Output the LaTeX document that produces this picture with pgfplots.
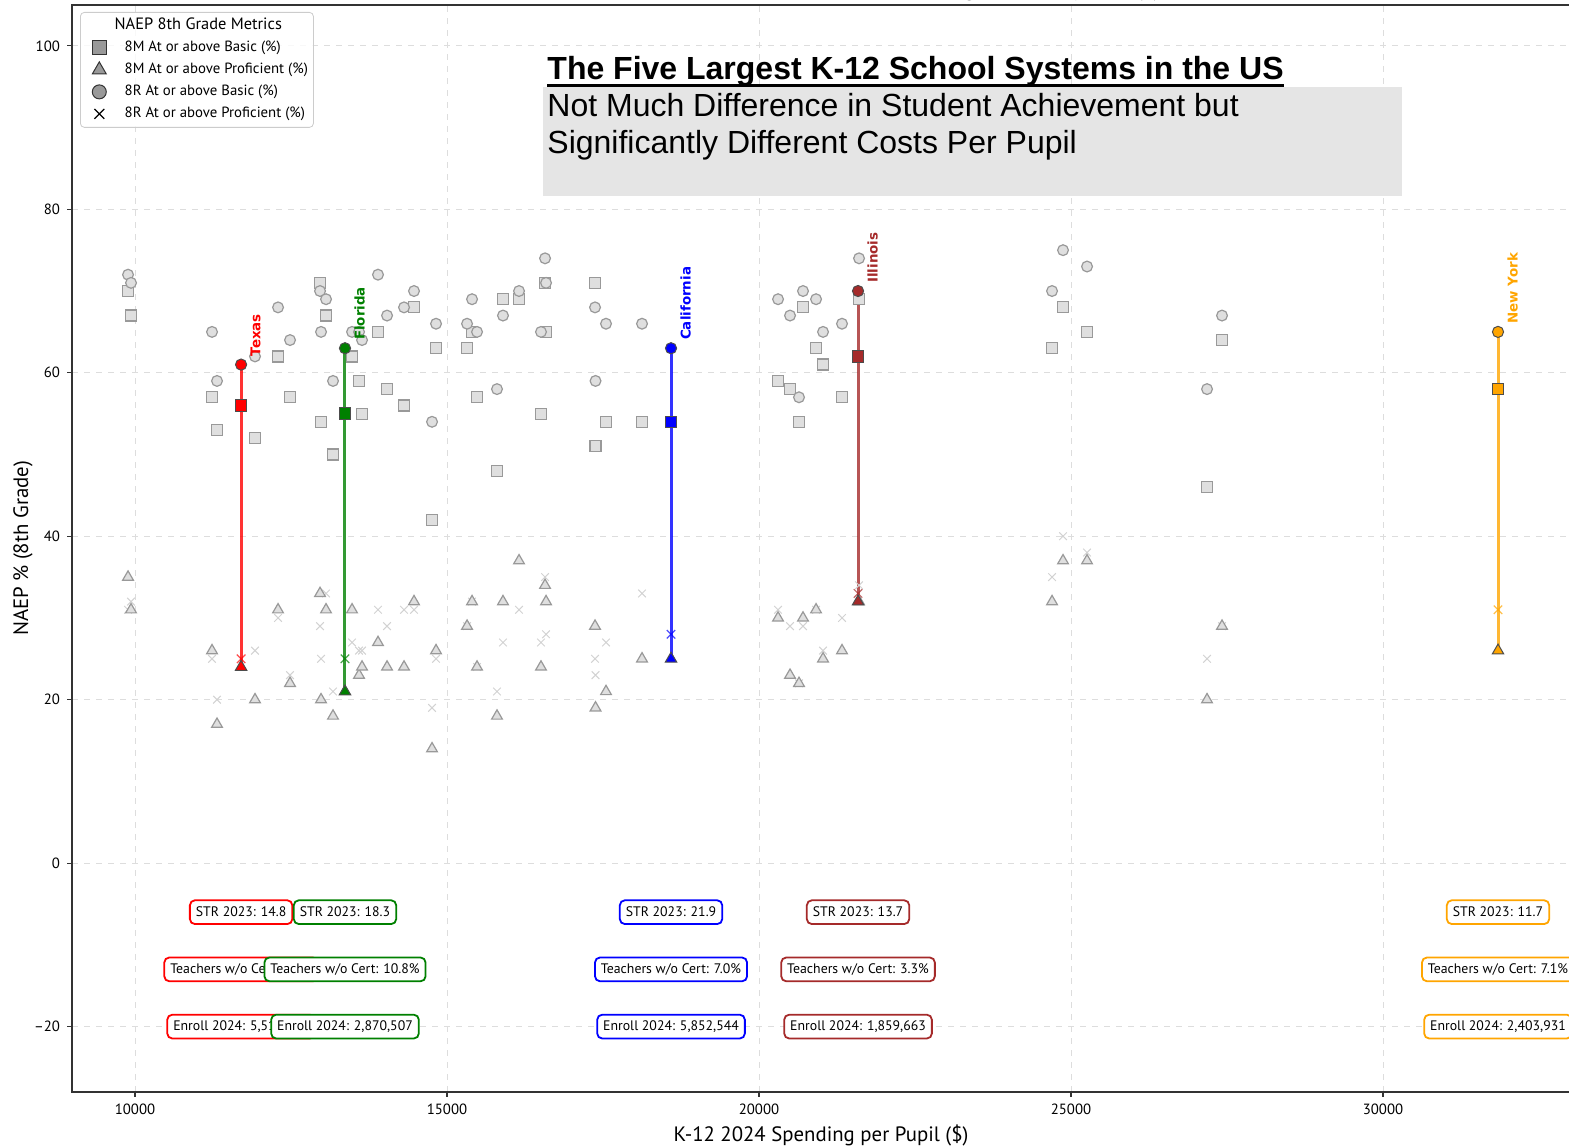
\documentclass[border=0pt]{standalone}
\usepackage{pgfplots}
\pgfplotsset{compat=1.18}
\usepackage{pgfplotstable}
\usepackage{fontspec}
\setmainfont{PT Sans}
\newfontfamily\arialf{Liberation Sans}
\newfontfamily\dejavu{DejaVu Sans}
\definecolor{txr}{HTML}{FF0000}
\definecolor{flg}{HTML}{008000}
\definecolor{cab}{HTML}{0000FF}
\definecolor{ilb}{HTML}{A52A2A}
\definecolor{nyo}{HTML}{FFA500}
\definecolor{gridc}{HTML}{DDDDDD}
\definecolor{axc}{HTML}{333333}
\newcommand\thickul[1]{\setbox0\hbox{#1}\leavevmode\rlap{\rule[-3.5pt]{\wd0}{1.25pt}}\box0}

% other states: spending, 8M basic, 8M proficient, 8R basic, 8R proficient
\pgfplotstableread{
x mb mp rb rp
9888 70 35 72 31
9936 67 31 71 32
11234 57 26 65 25
11314 53 17 59 20
11923 52 20 62 26
12292 62 31 68 30
12484 57 22 64 23
12965 71 33 70 29
12981 54 20 65 25
13061 67 31 69 33
13173 50 18 59 21
13478 62 31 65 27
13590 59 23 65 26
13638 55 24 64 26
13894 65 27 72 31
14039 58 24 67 29
14311 56 24 68 31
14471 68 32 70 31
14760 42 14 54 19
14824 63 26 66 25
15321 63 29 66 29
15401 65 32 69 32
15481 57 24 65 24
15801 48 18 58 21
15897 69 32 67 27
16154 69 37 70 31
16506 55 24 65 27
16571 71 34 74 35
16587 65 32 71 28
17372 71 29 68 25
17380 51 19 59 23
17548 54 21 66 27
18125 54 25 66 33
20305 59 30 69 31
20497 58 23 67 29
20641 54 22 57 22
20705 68 30 70 29
20914 63 31 69 31
21026 61 25 65 26
21330 57 26 66 30
21603 69 32 74 34
24696 63 32 70 35
24872 68 37 75 40
25257 65 37 73 38
27180 46 20 58 25
27420 64 29 67 29
}\others

\pgfplotsset{
 sq/.style={only marks, mark=square*, mark size=2.75pt, mark options={fill=gray!25, draw=gray!80, line width=0.6pt}, forget plot},
 tri/.style={only marks, mark=triangle*, mark size=3.1pt, mark options={fill=gray!25, draw=gray!80, line width=0.6pt}, forget plot},
 circ/.style={only marks, mark=*, mark size=2.7pt, mark options={fill=gray!25, draw=gray!80, line width=0.6pt}, forget plot},
 xx/.style={only marks, mark=x, mark size=2.7pt, mark options={draw=gray!35, line width=0.5pt}, forget plot},
 hline/.style={#1, line width=1.5pt, opacity=0.8, forget plot},
 hsq/.style={only marks, mark=square*, mark size=2.9pt, mark options={fill=#1, draw=black!70, line width=0.5pt}, forget plot},
 htri/.style={only marks, mark=triangle*, mark size=3.3pt, mark options={fill=#1, draw=black!70, line width=0.5pt}, forget plot},
 hcirc/.style={only marks, mark=*, mark size=2.8pt, mark options={fill=#1, draw=black!70, line width=0.5pt}, forget plot},
 hx/.style={only marks, mark=x, mark size=3pt, mark options={draw=#1, line width=0.6pt, opacity=0.7}, forget plot},
}
\tikzset{
 slab/.style={rotate=90, anchor=north west, inner sep=0pt, text=#1, font=\dejavu\bfseries\fontsize{6.7}{8}\selectfont},
 ibox/.style={draw=#1, line width=0.9pt, rounded corners=2.5pt, fill=white, inner xsep=3pt, inner ysep=2.6pt, text height=5.3pt, text depth=1.4pt, font=\fontsize{6.9}{8}\selectfont},
}

\begin{document}
\begin{tikzpicture}
\begin{axis}[
 set layers,
 scale only axis, width=749.1pt, height=543.5pt,
 xmin=8990, xmax=33000, ymin=-28, ymax=105,
 xtick={10000,15000,20000,25000,30000},
 ytick={-20,0,20,40,60,80,100},
 yticklabels={\textendash20,0,20,40,60,80,100},
 scaled x ticks=false,
 /pgf/number format/assume math mode=true,
 /pgf/number format/1000 sep={},
 tick label style={font=\fontsize{7.4}{8}\selectfont},
 grid=major, grid style={dashed, gridc, line width=0.5pt},
 tick align=outside, major tick length=2.5pt,
 xtick pos=bottom, ytick pos=left,
 axis line style={axc, line width=0.7pt},
 tick style={axc, line width=0.6pt},
 xlabel={K-12 2024 Spending per Pupil (\$)},
 ylabel={NAEP \% (8th Grade)},
 label style={font=\fontsize{10.4}{12}\selectfont},
 xlabel style={at={([yshift=-21.5pt]axis description cs:0.5,0)}, anchor=center},
 ylabel style={at={([xshift=-24.5pt]axis description cs:0,0.5)}, anchor=center},
 legend style={at={(0,1)}, anchor=north west, xshift=4pt, yshift=-3.5pt,
   draw=gray!40, rounded corners=2pt, fill=white, fill opacity=0.8, text opacity=1,
   font=\fontsize{7.4}{9}\selectfont, inner sep=1.25pt, row sep=0pt,
   nodes={inner sep=1.5pt, text height=6pt, text depth=2pt}},
 legend cell align=left,
 legend image code/.code={\path (0pt,0pt) (19pt,0pt); \draw[#1] plot coordinates {(8pt,0pt)};},
 clip=false,
]
\addlegendimage{empty legend}
\addlegendentry{\hspace*{-5pt}\fontsize{8.2}{9}\selectfont NAEP 8th Grade Metrics}
\addlegendimage{only marks, mark=square*, mark size=3.5pt, mark options={fill=gray, draw=black!80, line width=0.5pt}}
\addlegendentry{8M At or above Basic (\%)}
\addlegendimage{only marks, mark=triangle*, mark size=4pt, mark options={fill=gray, draw=black!80, line width=0.5pt}}
\addlegendentry{8M At or above Proficient (\%)}
\addlegendimage{only marks, mark=*, mark size=3.5pt, mark options={fill=gray, draw=black!80, line width=0.5pt}}
\addlegendentry{8R At or above Basic (\%)}
\addlegendimage{only marks, mark=x, mark size=3.5pt, mark options={draw=black, line width=0.6pt}}
\addlegendentry{8R At or above Proficient (\%)}

\coordinate (SW) at (rel axis cs:0,0);
\coordinate (NW) at (rel axis cs:0,1);

\addplot[xx] table[x=x,y=rp]{\others};
\addplot[sq] table[x=x,y=mb]{\others};
\addplot[tri] table[x=x,y=mp]{\others};
\addplot[circ] table[x=x,y=rb]{\others};

% Texas
\addplot[hline=txr] coordinates {(11700,61) (11700,24)};
\addplot[hx=txr] coordinates {(11700,25)};
\addplot[htri=txr] coordinates {(11700,24)};
\addplot[hsq=txr] coordinates {(11700,56)};
\addplot[hcirc=txr] coordinates {(11700,61)};
% Florida
\addplot[hline=flg] coordinates {(13365,63) (13365,21)};
\addplot[hx=flg] coordinates {(13365,25)};
\addplot[htri=flg] coordinates {(13365,21)};
\addplot[hsq=flg] coordinates {(13365,55)};
\addplot[hcirc=flg] coordinates {(13365,63)};
% California
\addplot[hline=cab] coordinates {(18590,63) (18590,25)};
\addplot[hx=cab] coordinates {(18590,28)};
\addplot[htri=cab] coordinates {(18590,25)};
\addplot[hsq=cab] coordinates {(18590,54)};
\addplot[hcirc=cab] coordinates {(18590,63)};
% Illinois
\addplot[hline=ilb] coordinates {(21587,70) (21587,32)};
\addplot[hx=ilb] coordinates {(21587,33)};
\addplot[htri=ilb] coordinates {(21587,32)};
\addplot[hsq=ilb] coordinates {(21587,62)};
\addplot[hcirc=ilb] coordinates {(21587,70)};
% New York
\addplot[hline=nyo] coordinates {(31843,65) (31843,26)};
\addplot[hx=nyo] coordinates {(31843,31)};
\addplot[htri=nyo] coordinates {(31843,26)};
\addplot[hsq=nyo] coordinates {(31843,58)};
\addplot[hcirc=nyo] coordinates {(31843,65)};

\begin{pgfonlayer}{axis foreground}
% state labels
\node[slab=txr] at ([xshift=4.5pt,yshift=4pt]axis cs:11700,61) {Texas};
\node[slab=flg] at ([xshift=4.5pt,yshift=4pt]axis cs:13365,63) {Florida};
\node[slab=cab] at ([xshift=4.5pt,yshift=4pt]axis cs:18590,63) {California};
\node[slab=ilb] at ([xshift=4.5pt,yshift=4pt]axis cs:21587,70) {Illinois};
\node[slab=nyo] at ([xshift=4.5pt,yshift=4pt]axis cs:31843,65) {New York};

% info boxes
\node[ibox=txr] at (axis cs:11700,-6) {STR 2023: 14.8};
\node[ibox=txr] at (axis cs:11700,-13) {Teachers w/o Cert: 9.5\%};
\node[ibox=txr] at (axis cs:11700,-20) {Enroll 2024: 5,518,432};
\node[ibox=flg] at (axis cs:13365,-6) {STR 2023: 18.3};
\node[ibox=flg] at (axis cs:13365,-13) {Teachers w/o Cert: 10.8\%};
\node[ibox=flg] at (axis cs:13365,-20) {Enroll 2024: 2,870,507};
\node[ibox=cab] at (axis cs:18590,-6) {STR 2023: 21.9};
\node[ibox=cab] at (axis cs:18590,-13) {Teachers w/o Cert: 7.0\%};
\node[ibox=cab] at (axis cs:18590,-20) {Enroll 2024: 5,852,544};
\node[ibox=ilb] at (axis cs:21587,-6) {STR 2023: 13.7};
\node[ibox=ilb] at (axis cs:21587,-13) {Teachers w/o Cert: 3.3\%};
\node[ibox=ilb] at (axis cs:21587,-20) {Enroll 2024: 1,859,663};
\node[ibox=nyo] at (axis cs:31843,-6) {STR 2023: 11.7};
\node[ibox=nyo] at (axis cs:31843,-13) {Teachers w/o Cert: 7.1\%};
\node[ibox=nyo] at (axis cs:31843,-20) {Enroll 2024: 2,403,931};
\end{pgfonlayer}

% title block
\fill[gray!20] (axis cs:16538,94.98) rectangle (axis cs:30305,81.65);
\node[anchor=base west, inner sep=0pt, font=\arialf\bfseries\fontsize{16}{19}\selectfont] at (axis cs:16603,95.84) {\thickul{The Five Largest K-12 School Systems in the US}};
\node[anchor=base west, inner sep=0pt, font=\arialf\fontsize{16}{19}\selectfont] at (axis cs:16603,91.31) {Not Much Difference in Student Achievement but};
\node[anchor=base west, inner sep=0pt, font=\arialf\fontsize{16}{19}\selectfont] at (axis cs:16603,86.79) {Significantly Different Costs Per Pupil};

% clipped top text
\node[anchor=base, inner sep=0pt, font=\fontsize{10}{12}\selectfont] at ([yshift=4pt]axis cs:24300,105) {Spending per pupil by State (\$)};
\end{axis}
\pgfresetboundingbox
\path[use as bounding box] ([shift={(-36pt,-28pt)}]SW) rectangle ([shift={(748.5pt,2.5pt)}]NW);
\end{tikzpicture}
\end{document}
